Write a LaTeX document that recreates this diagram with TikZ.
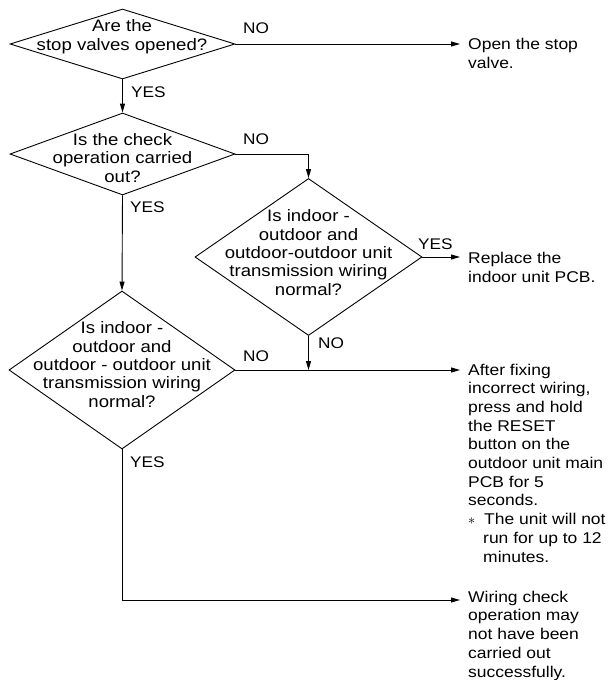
\documentclass[tikz,border=0pt]{standalone}
\usepackage{fontspec}
\setmainfont{Liberation Sans}[FakeStretch=1.12]
\usetikzlibrary{shapes.geometric,arrows.meta}
\begin{document}
\begin{tikzpicture}[x=1pt,y=-1pt,
  dia/.style={diamond, draw, line width=0.9pt, inner sep=0pt},
  dtext/.style={align=center, font=\fontsize{16.6}{18.3}\selectfont, inner sep=0pt, anchor=base},
  rtext/.style={align=left, font=\fontsize{15.6}{18.7}\selectfont, anchor=base west, inner xsep=8pt, inner ysep=0pt},
  lab/.style={font=\fontsize{15.4}{16}\selectfont, anchor=base west, inner sep=0pt},
  arr/.style={-{Triangle[length=9pt,width=5pt]}, line width=0.9pt},
  ln/.style={line width=0.9pt}]
\useasboundingbox (0,0) rectangle (614,680);

% diamonds
\node[dia, minimum width=225pt, minimum height=70pt] (d1) at (122.5,44) {};
\node[dia, minimum width=225pt, minimum height=82pt] (d2) at (122.5,154) {};
\node[dia, minimum width=227pt, minimum height=157pt] (d3) at (308.5,257) {};
\node[dia, minimum width=226pt, minimum height=158pt] (d4) at (122,370) {};

% diamond texts (anchored at the baseline of the last line)
\node[dtext] (q1) at (122,50) {Are the\\stop valves opened?};
\node[dtext] (q2) at (122.5,182) {Is the check\\operation carried\\out?};
\node[dtext] (q3) at (308.5,295) {Is indoor -\\outdoor and\\outdoor-outdoor unit\\transmission wiring\\normal?};
\node[dtext] (q4) at (122,407) {Is indoor -\\outdoor and\\outdoor - outdoor unit\\transmission wiring\\normal?};

% result texts (anchored at the baseline of the last line)
\node[rtext] (r1) at (460,68.5) {Open the stop\\valve.};
\node[rtext] (r2) at (460,282) {Replace the\\indoor unit PCB.};
\node[rtext] (r3) at (460,562) {After fixing\\incorrect wiring,\\press and hold\\the RESET\\button on the\\outdoor unit main\\PCB for 5\\seconds.\\\makebox[16pt][l]{$\ast$}The unit will not\\\hspace*{15pt}run for up to 12\\\hspace*{15pt}minutes.};
\node[rtext] (r4) at (460,677) {Wiring check\\operation may\\not have been\\carried out\\successfully.};

% labels
\node[lab] (l1n) at (243,34) {NO};
\node[lab] (l1y) at (131,97) {YES};
\node[lab] (l2n) at (243,144) {NO};
\node[lab] (l2y) at (130,212) {YES};
\node[lab] (l3y) at (418,249) {YES};
\node[lab] (l3n) at (318,348) {NO};
\node[lab] (l4n) at (243,361) {NO};
\node[lab] (l4y) at (130,467) {YES};

% connectors
\coordinate (j3) at (d3.south |- d4.east);
\draw[arr] (d1.east) -- (d1.east -| r1.west);
\draw[arr] (d1.south) -- (d2.north);
\draw[arr] (d2.east) -| (d3.north);
\draw[arr] (d2.south) -- (d4.north);
\draw[arr] (d3.east) -- (d3.east -| r2.west);
\draw[arr] (d3.south) -- (j3);
\draw[arr] (d4.east) -- (d4.east -| r3.west);
\coordinate (c4) at (122,600);
\draw[arr] (d4.south) -- (c4) -- (c4 -| r4.west);
\end{tikzpicture}
\end{document}
